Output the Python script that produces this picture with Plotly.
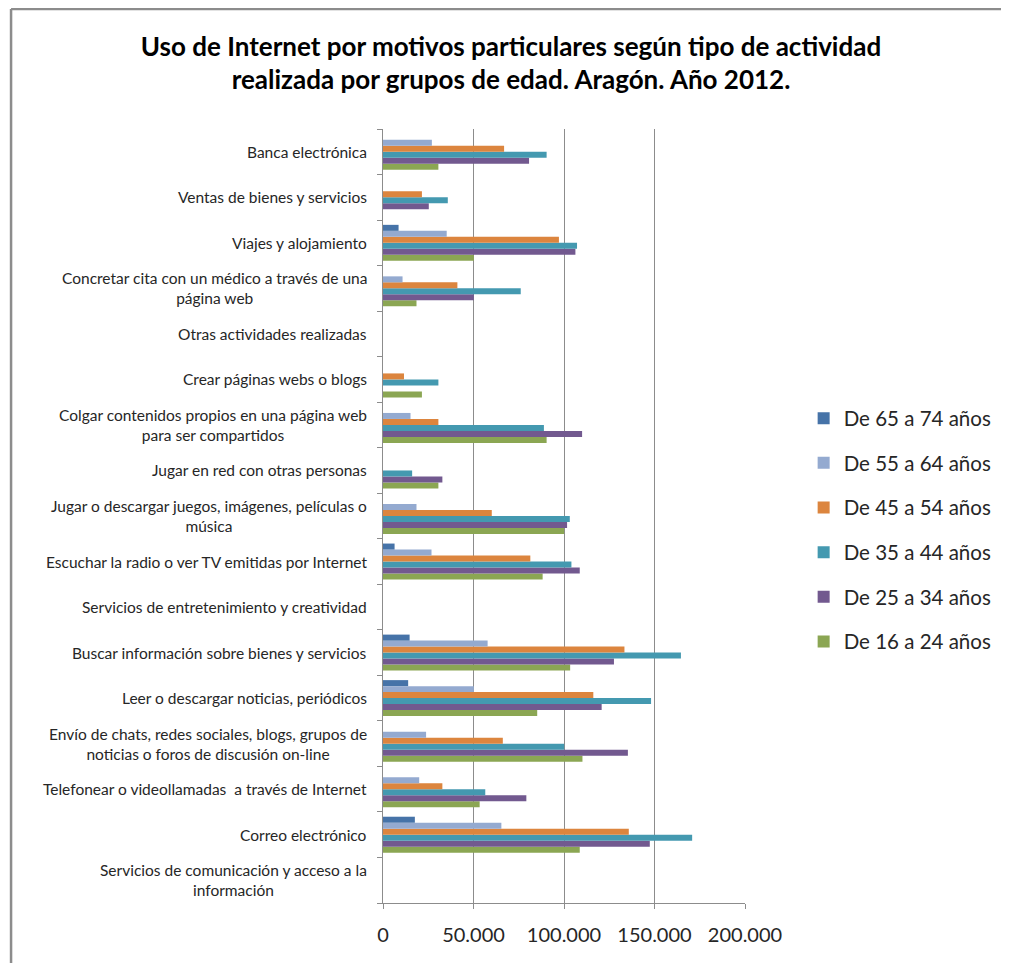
import plotly.graph_objects as go

# Categories, bottom to top (as drawn on the y axis)
categories = [
    "Servicios de comunicación y acceso a la información",
    "Correo electrónico",
    "Telefonear o videollamadas a través de Internet",
    "Envío de chats, redes sociales, blogs, grupos de noticias o foros de discusión on-line",
    "Leer o descargar noticias, periódicos",
    "Buscar información sobre bienes y servicios",
    "Servicios de entretenimiento y creatividad",
    "Escuchar la radio o ver TV emitidas por Internet",
    "Jugar o descargar juegos, imágenes, películas o música",
    "Jugar en red con otras personas",
    "Colgar contenidos propios en una página web para ser compartidos",
    "Crear páginas webs o blogs",
    "Otras actividades realizadas",
    "Concretar cita con un médico a través de una página web",
    "Viajes y alojamiento",
    "Ventas de bienes y servicios",
    "Banca electrónica",
]

# Displayed label texts (wrapped as in the original)
category_labels = [
    "Servicios de comunicación y acceso a la<br>información",
    "Correo electrónico",
    "Telefonear o videollamadas  a través de Internet",
    "Envío de chats, redes sociales, blogs, grupos de<br>noticias o foros de discusión on-line",
    "Leer o descargar noticias, periódicos",
    "Buscar información sobre bienes y servicios",
    "Servicios de entretenimiento y creatividad",
    "Escuchar la radio o ver TV emitidas por Internet",
    "Jugar o descargar juegos, imágenes, películas o<br>música",
    "Jugar en red con otras personas",
    "Colgar contenidos propios en una página web<br>para ser compartidos",
    "Crear páginas webs o blogs",
    "Otras actividades realizadas",
    "Concretar cita con un médico a través de una<br>página web",
    "Viajes y alojamiento",
    "Ventas de bienes y servicios",
    "Banca electrónica",
]

series_names = [
    "De 16 a 24 años",
    "De 25 a 34 años",
    "De 35 a 44 años",
    "De 45 a 54 años",
    "De 55 a 64 años",
    "De 65 a 74 años",
]

de_16_a_24 = [None, 108700, 53400, 110200, 85200, 103400, None, 88200, 100100,
              30600, 90400, 21500, None, 18500, 50200, None, 30600]
de_25_a_34 = [None, 147400, 79200, 135300, 120800, 127600, None, 108700, 101700,
              32800, 110000, None, None, 50200, 106300, 25300, 80700]
de_35_a_44 = [None, 170800, 56500, 100100, 148100, 164600, None, 104100, 103200,
              16100, 88900, 30600, None, 76100, 107200, 35800, 90400]
de_45_a_54 = [None, 135800, 32800, 66200, 116200, 133400, None, 81400, 60100,
              None, 30600, 11600, None, 41100, 97200, 21500, 66900]
de_55_a_64 = [None, 65400, 20000, 23800, 50200, 57800, None, 26800, 18500,
              None, 15200, None, None, 10800, 35200, None, 27000]
de_65_a_74 = [None, 17600, None, None, 13900, 14700, None, 6400, None,
              None, None, None, None, None, 8600, None, None]

series_values = [de_16_a_24, de_25_a_34, de_35_a_44, de_45_a_54, de_55_a_64, de_65_a_74]
colors = ["#8BA653", "#72598F", "#4499B0", "#DC853E", "#94AAD0", "#4673A8"]

x_tickvals = [0, 50000, 100000, 150000, 200000]
x_ticktext = ["0", "50.000", "100.000", "150.000", "200.000"]

FONT = "Lato, 'Liberation Sans', Arial, sans-serif"

W, H = 1001, 955
L, T, B = 375, 121, 60
PW = 364
R = W - L - PW
PH = H - T - B

fig = go.Figure()
n = len(series_names)
for i, (name, vals, col) in enumerate(zip(series_names, series_values, colors)):
    fig.add_trace(go.Bar(
        y=categories, x=vals, name=name, orientation="h",
        marker=dict(color=col, line=dict(width=0)),
        legendgroup=name, legendrank=n - i,
    ))

for cat, lab in zip(categories, category_labels):
    fig.add_annotation(
        x=0, xref="paper", y=cat, yref="y", text=lab, showarrow=False,
        xanchor="right", yanchor="middle", align="center", xshift=-14,
        font=dict(family=FONT, size=15.5, color="#262626"),
    )

# outer chart border (top and left visible)
bx = (1 - L) / PW
by = 1 + (T - 1) / PH
fig.add_shape(type="line", xref="paper", yref="paper",
              x0=bx, x1=3.0, y0=by, y1=by,
              line=dict(color="#8C8C8C", width=2.5))
fig.add_shape(type="line", xref="paper", yref="paper",
              x0=bx, x1=bx, y0=by, y1=-0.3,
              line=dict(color="#8C8C8C", width=2.5))

fig.update_layout(
    width=W, height=H,
    margin=dict(l=L, r=R, t=T, b=B),
    paper_bgcolor="white", plot_bgcolor="white",
    barmode="group", bargap=0.21, bargroupgap=0,
    title=dict(
        text="Uso de Internet por motivos particulares según tipo de actividad<br>realizada por grupos de edad. Aragón. Año 2012.",
        x=(511 - 8) / W, xanchor="center", y=1 - 47.5 / H, yanchor="middle",
        font=dict(family=FONT, size=26, color="#000000", weight="bold"),
    ),
    xaxis=dict(
        range=[0, 200000], tickvals=x_tickvals, ticktext=x_ticktext,
        showgrid=True, gridcolor="#8C8C8C", gridwidth=1,
        showline=True, linecolor="#8C8C8C", linewidth=1,
        ticks="outside", ticklen=5, tickcolor="#8C8C8C", ticklabelstandoff=9,
        tickfont=dict(family=FONT, size=20, color="#262626"),
        zeroline=False, fixedrange=True,
    ),
    yaxis=dict(
        type="category", categoryorder="array", categoryarray=categories,
        showticklabels=False, showgrid=False,
        showline=True, linecolor="#8C8C8C", linewidth=1,
        ticks="outside", ticklen=5, tickcolor="#8C8C8C", tickson="boundaries",
        fixedrange=True,
    ),
    legend=dict(
        x=1.162, xanchor="left", y=0.652, yanchor="top",
        traceorder="grouped", tracegroupgap=15,
        font=dict(family=FONT, size=20.5, color="#262626"),
        bgcolor="rgba(0,0,0,0)",
    ),
    showlegend=True,
)

fig.write_html("out.html")
